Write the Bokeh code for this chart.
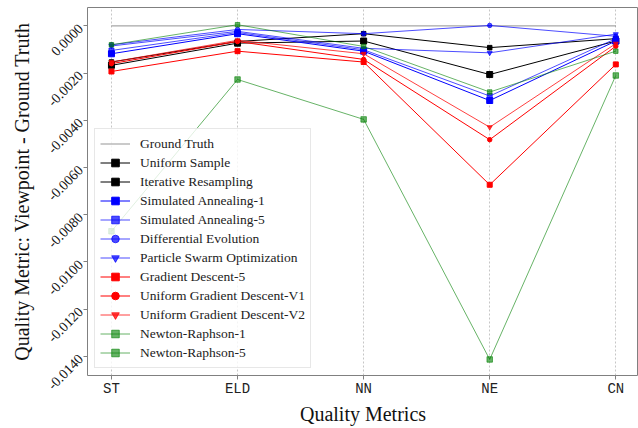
import math
from bokeh.plotting import figure
from bokeh.models import Range1d, FixedTicker, NumeralTickFormatter, Legend, LegendItem
from bokeh.embed import file_html
from bokeh.resources import INLINE

metrics = ["ST", "ELD", "NN", "NE", "CN"]
y_ticks = [0.0, -0.002, -0.004, -0.006, -0.008, -0.010, -0.012, -0.014]

ground_truth = [0.0, 0.0, 0.0, 0.0, 0.0]
uniform_sample = [-0.00167, -0.00073, -0.00064, -0.00206, -0.00064]
iterative_resampling = [-0.00153, -0.00066, -0.00033, -0.00092, -0.00054]
simulated_annealing_1 = [-0.00118, -0.00033, -0.00107, -0.00316, -0.00064]
simulated_annealing_5 = [-0.00104, -0.00028, -0.00101, -0.00297, -0.00054]
differential_evolution = [-0.00080, -0.00015, -0.00033, 0.00002, -0.00044]
particle_swarm = [-0.00085, -0.00023, -0.00095, -0.00114, -0.00035]
gradient_descent_5 = [-0.00193, -0.00107, -0.00153, -0.00673, -0.00163]
uniform_gd_v1 = [-0.00160, -0.00066, -0.00142, -0.00482, -0.00086]
uniform_gd_v2 = [-0.00153, -0.00061, -0.00118, -0.00429, -0.00075]
newton_raphson_1 = [-0.00870, -0.00227, -0.00396, -0.01413, -0.00210]
newton_raphson_5 = [-0.00080, 0.00005, -0.00087, -0.00280, -0.00107]

xs = list(range(len(metrics)))

series = [
    ("Uniform Sample", uniform_sample, "black", 1.0, "square", 6),
    ("Iterative Resampling", iterative_resampling, "black", 1.0, "square", 4.5),
    ("Simulated Annealing-1", simulated_annealing_1, "blue", 1.0, "square", 6),
    ("Simulated Annealing-5", simulated_annealing_5, "blue", 0.7, "square", 5),
    ("Differential Evolution", differential_evolution, "blue", 0.7, "circle", 4.5),
    ("Particle Swarm Optimization", particle_swarm, "blue", 0.7, "inverted_triangle", 5),
    ("Gradient Descent-5", gradient_descent_5, "red", 1.0, "square", 5),
    ("Uniform Gradient Descent-V1", uniform_gd_v1, "red", 1.0, "circle", 4.5),
    ("Uniform Gradient Descent-V2", uniform_gd_v2, "red", 0.75, "inverted_triangle", 5),
    ("Newton-Raphson-1", newton_raphson_1, "green", 0.6, "square", 5.5),
    ("Newton-Raphson-5", newton_raphson_5, "green", 0.6, "square", 4.5),
]

p = figure(width=638, height=428, output_backend="svg", toolbar_location=None,
           x_range=Range1d(-0.19, 4.18), y_range=Range1d(-0.01481, 0.00078),
           min_border_left=87, min_border_right=0, min_border_top=7, min_border_bottom=53)

p.background_fill_color = "white"
p.border_fill_color = "white"
p.outline_line_color = "#808080"
p.outline_line_width = 1

p.ygrid.grid_line_color = None
p.xgrid.grid_line_color = "#b8b8b8"
p.xgrid.grid_line_dash = "2 2"
p.xgrid.grid_line_width = 0.8

items = []
gt = p.line(xs, ground_truth, line_color="black", line_alpha=0.35, line_width=1.2)
items.append(LegendItem(label="Ground Truth", renderers=[gt]))

for name, vals, color, alpha, marker, size in series:
    l = p.line(xs, vals, line_color=color, line_alpha=alpha, line_width=1.0)
    s = p.scatter(xs, vals, marker=marker, size=size, fill_color=color, line_color=color,
                  fill_alpha=alpha, line_alpha=alpha)
    items.append(LegendItem(label=name, renderers=[l, s]))

legend = Legend(items=items, location="bottom_left")
legend.margin = 7
legend.padding = 5
legend.spacing = 0
legend.glyph_width = 30
legend.glyph_height = 19
legend.label_height = 19
legend.label_standoff = 10
legend.label_text_font = "Liberation Serif"
legend.label_text_font_size = "13.5px"
legend.label_text_color = "#222222"
legend.background_fill_alpha = 0.8
legend.border_line_color = "#d0d0d0"
legend.border_line_width = 1
p.add_layout(legend, "center")

p.xaxis.ticker = FixedTicker(ticks=xs)
p.xaxis.major_label_overrides = {i: m for i, m in enumerate(metrics)}
p.xaxis.major_label_text_font = "Liberation Mono"
p.xaxis.major_label_text_font_size = "14px"
p.xaxis.major_label_text_color = "#222222"
p.xaxis.axis_label = "Quality Metrics"
p.xaxis.axis_label_text_font = "Liberation Serif"
p.xaxis.axis_label_text_font_size = "20px"
p.xaxis.axis_label_text_font_style = "normal"
p.xaxis.axis_label_text_color = "#111111"
p.xaxis.axis_line_color = None
p.xaxis.major_tick_line_color = "#808080"
p.xaxis.major_tick_out = 4
p.xaxis.major_tick_in = 0
p.xaxis.minor_tick_line_color = None
p.xaxis.major_label_standoff = 1
p.xaxis.axis_label_standoff = 3

p.yaxis.ticker = FixedTicker(ticks=y_ticks)
p.yaxis.formatter = NumeralTickFormatter(format="0.0000")
p.yaxis.major_label_orientation = math.pi / 4
p.yaxis.major_label_text_font = "Liberation Serif"
p.yaxis.major_label_text_font_size = "14px"
p.yaxis.major_label_text_color = "#111111"
p.yaxis.axis_label = "Quality Metric: Viewpoint - Ground Truth"
p.yaxis.axis_label_text_font = "Liberation Serif"
p.yaxis.axis_label_text_font_size = "20px"
p.yaxis.axis_label_text_font_style = "normal"
p.yaxis.axis_label_text_color = "#111111"
p.yaxis.axis_line_color = None
p.yaxis.major_tick_line_color = "#808080"
p.yaxis.major_tick_out = 4
p.yaxis.major_tick_in = 0
p.yaxis.minor_tick_line_color = None
p.yaxis.major_label_standoff = 3
p.yaxis.axis_label_standoff = 7

open("out.html", "w").write(file_html(p, INLINE))
